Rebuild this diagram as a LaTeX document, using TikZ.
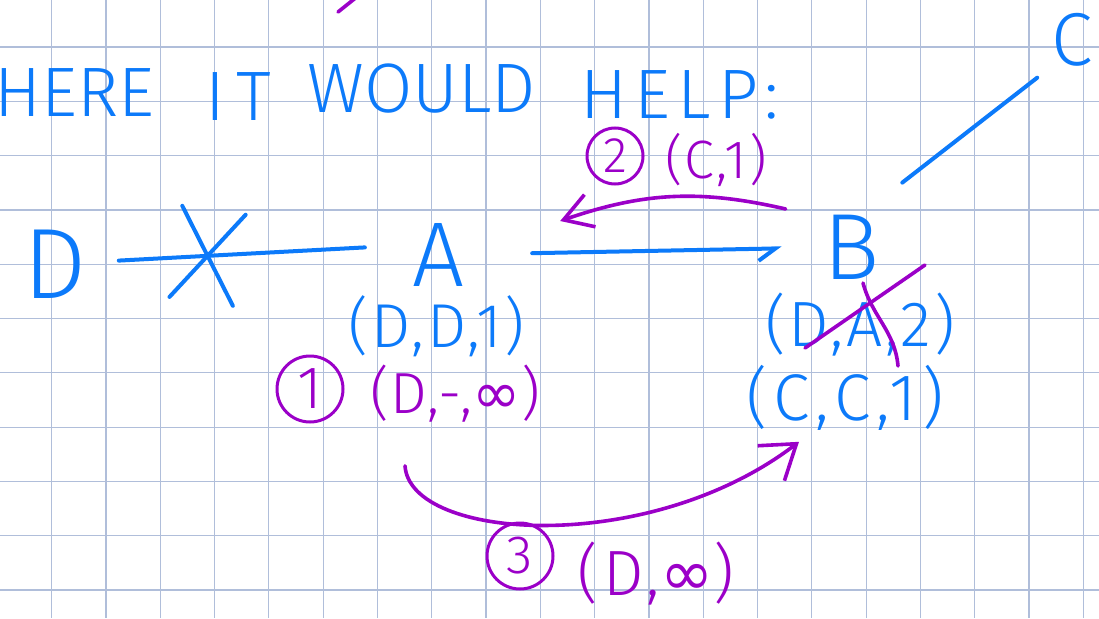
\documentclass[tikz,border=0pt]{standalone}
\usepackage{fontspec}
\setmainfont{Fira Sans}[UprightFont=* Light]
\newfontfamily\symbolfont{DejaVu Sans}
\usetikzlibrary{positioning,arrows.meta,shapes.misc}
\definecolor{penblue}{RGB}{12,122,250}
\definecolor{penpurple}{RGB}{155,0,200}
\definecolor{gridblue}{RGB}{176,190,218}
\newcommand\pen[2]{\fontsize{#1}{#1}\selectfont\addfontfeature{LetterSpace=#2}}
\newcommand\infsign{{\symbolfont ∞}}

\begin{document}
\begin{tikzpicture}[x=1pt,y=-1pt,
    every node/.style={inner sep=2pt},
    link/.style={penblue,line width=4pt,line cap=round,line join=round},
    msg/.style={penpurple,line width=3.6pt,line cap=round,line join=round},
    title/.style={text=penblue,font=\pen{70}{#1}},
    router/.style={text=penblue,font=\pen{#1}{0}},
    entry/.style={text=penblue,font=#1},
    update/.style={text=penpurple,font=#1},
    numcircle/.style={circle,draw=penpurple,line width=3pt,text=penpurple,
        inner sep=0pt,minimum size=#1},
    broken/.style={cross out,draw=penblue,line width=4pt,line cap=round,
        shorten <=0pt,shorten >=0pt,minimum width=60pt,minimum height=88pt,
        inner sep=0pt,rotate=-8}]
    \useasboundingbox (0,0) rectangle (1099,618);
    \fill[white] (0,0) rectangle (1099,618);
    \foreach \i in {0,...,19}
        \draw[gridblue,line width=1.2pt] (51.6+54.3*\i,0) -- ++(0,618);
    \foreach \j in {0,...,10}
        \draw[gridblue,line width=1.2pt] (0,47+54.3*\j) -- ++(1099,0);
    \node[title=0,anchor=base east] (where) at (157,116) {WHERE};
    \node[title=16,anchor=base] (it) at (238,120) {IT};
    \node[title=0,anchor=base] (would) at (422,112) {WOULD};
    \node[title=10,anchor=base] (help) at (680,118) {HELP:};
    \node[router=100] (D) at (55,264) {D};
    \node[router=92] (A) at (438,255) {A};
    \node[router=94] (B) at (852,247) {B};
    \node[router=75] (C) at (1072,40) {C};
    \node[entry=\pen{62}{4}] (DD1) at (437,326) {(D,D,1)};
    \node[entry=\pen{64}{4}] (DA2) at (860,325) {(D,A,2)};
    \node[entry=\pen{66}{9}] (CC1) at (845,398) {(C,C,1)};
    \node[numcircle=66pt,font=\pen{60}{0}] (n1) at (310,389) {1};
    \node[update=\pen{58}{3}] (upd1) at (455,394) {(D,-,\infsign)};
    \node[numcircle=56pt,font=\pen{50}{0}] (n2) at (615,156) {2};
    \node[update=\pen{54}{4}] (upd2) at (716,160) {(C,1)};
    \node[numcircle=66pt,font=\pen{54}{0}] (n3) at (520,556) {3};
    \node[update=\pen{64}{7}] (upd3) at (656,574) {(D,\infsign)};
    \draw[link,shorten <=30pt,shorten >=45pt] (D) to node[pos=.37,broken]{} ([shift={(0,-10)}]A.west);
    \draw[link,shorten <=66pt,shorten >=40pt,-{Straight Barb[right,length=17pt,width=24pt]}] (A) -- (B);
    \draw[link] ([shift={(20,-30)}]B.north east) -- ([shift={(-12,9)}]C.south west);
    \draw[msg,-{Straight Barb[length=28pt,width=34pt]}] ([shift={(-36,-38)}]B.west) to[bend right=16] ([shift={(94,-34)}]A.east);
    \draw[msg,-{Straight Barb[length=32pt,width=44pt]}] ([shift={(-50,41)}]upd1.south) .. controls +(5,75) and +(-150,115) .. ([shift={(55,9)}]CC1.south west);
    \draw[msg] ([shift={(-55,23)}]DA2.center) -- ([shift={(65,-60)}]DA2.center);
    \draw[msg] ([shift={(3,-42)}]DA2.center) to[out=-75,in=95] ([shift={(38,41)}]DA2.center);
    \draw[msg] (338,12) -- (358,-4);
\end{tikzpicture}
\end{document}
